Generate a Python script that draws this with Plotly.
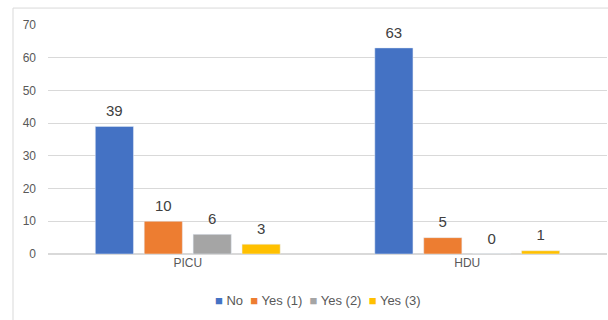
import plotly.graph_objects as go

categories = ["PICU", "HDU"]
series_names = ["No", "Yes (1)", "Yes (2)", "Yes (3)"]
values_no = [39, 63]
values_yes1 = [10, 5]
values_yes2 = [6, 0]
values_yes3 = [3, 1]
colors = ["#4472C4", "#ED7D31", "#A5A5A5", "#FFC000"]
y_ticks = [0, 10, 20, 30, 40, 50, 60, 70]

all_values = [values_no, values_yes1, values_yes2, values_yes3]

fig = go.Figure()
for name, vals, col in zip(series_names, all_values, colors):
    fig.add_trace(go.Bar(
        x=categories, y=vals, name=name, marker_color=col,
        showlegend=False, hoverinfo="x+y+name",
    ))
# value labels, grouped to sit above the matching bars
for name, vals in zip(series_names, all_values):
    fig.add_trace(go.Scatter(
        x=categories, y=vals, name=name, mode="markers+text",
        text=[str(v) for v in vals], textposition="top center",
        textfont=dict(size=15, color="#404040"),
        marker=dict(size=9, color="rgba(0,0,0,0)"),
        showlegend=False, hoverinfo="skip", cliponaxis=False,
    ))

legend_text = "  ".join(
    f"<span style='color:{c}'>■</span> {n}" for n, c in zip(series_names, colors)
)

fig.update_layout(
    width=608, height=320,
    margin=dict(l=48, r=1, t=25, b=66),
    paper_bgcolor="white", plot_bgcolor="white",
    font=dict(family="Liberation Sans, Arial, sans-serif", size=12, color="#595959"),
    barmode="group", bargap=0.30, bargroupgap=0.22,
    scattermode="group", scattergap=0.30,
    showlegend=False,
    xaxis=dict(showgrid=False, showline=False, ticks="", automargin=False,
               tickfont=dict(size=12, color="#595959")),
    yaxis=dict(range=[0, 70], tickvals=y_ticks, showgrid=True, gridcolor="#D9D9D9",
               gridwidth=1, zeroline=True, zerolinecolor="#D9D9D9", ticks="", automargin=False,
               ticklabelstandoff=11, tickfont=dict(size=12, color="#595959")),
    annotations=[dict(text=legend_text, xref="paper", yref="paper", x=0.483, y=-0.205,
                      xanchor="center", yanchor="middle", showarrow=False,
                      font=dict(size=13, color="#595959"))],
    shapes=[dict(type="rect", xref="paper", yref="paper", x0=-0.0626, x1=1.2, y0=-0.6, y1=1.074,
                 line=dict(color="#D9D9D9", width=1), fillcolor="rgba(0,0,0,0)", layer="below")],
)
fig.write_html("out.html")
